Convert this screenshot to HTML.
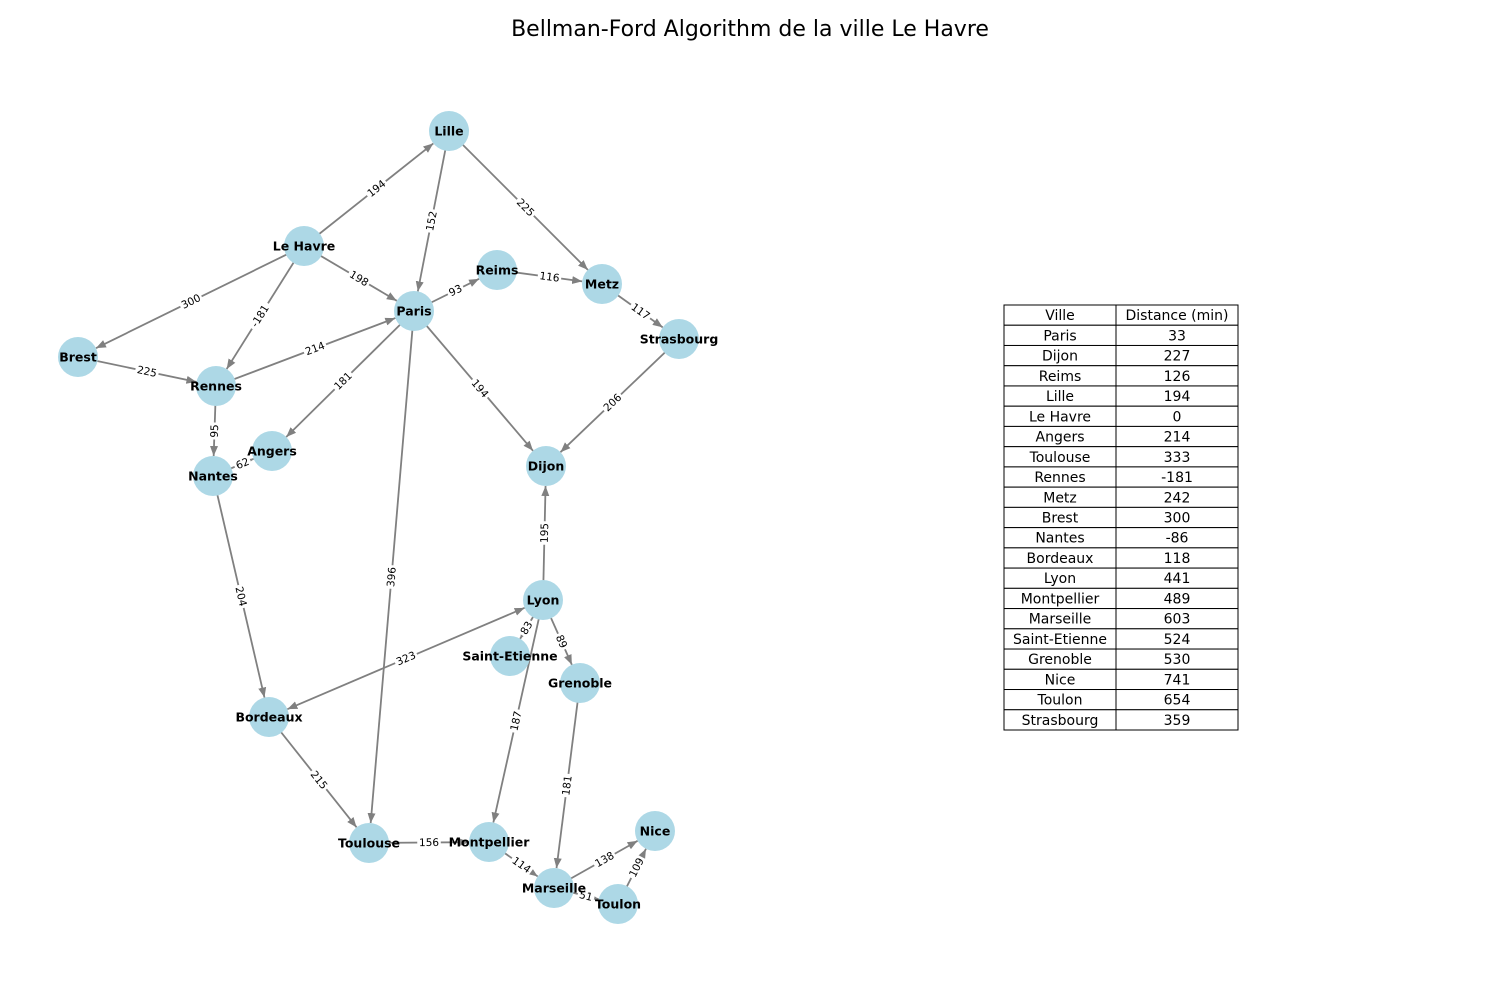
<!DOCTYPE html>
<html><head><meta charset="utf-8">
<style>
body{margin:0;background:#fff;}
svg{display:block;font-family:"DejaVu Sans","Liberation Sans",sans-serif;}
</style></head>
<body>
<svg id="chart" width="1500" height="1000" viewBox="0 0 1500 1000">
<defs>
<marker id="arr" viewBox="0 0 10 10" refX="10" refY="5" markerWidth="10" markerHeight="10" markerUnits="userSpaceOnUse" orient="auto-start-reverse">
<path d="M0,1 L10,5 L0,9 Z" fill="#808080"/>
</marker>
</defs>
<text x="750" y="36" text-anchor="middle" font-size="22" fill="#000">Bellman-Ford Algorithm de la ville Le Havre</text>
<g id="edges"></g>
<g id="elabels"></g>
<g id="nodes"></g>
<g id="table"></g>
</svg>
<script>
const nodeNames = ["Lille","Le Havre","Reims","Metz","Paris","Strasbourg","Brest","Rennes","Angers","Nantes","Dijon","Lyon","Saint-Etienne","Grenoble","Bordeaux","Toulouse","Montpellier","Nice","Marseille","Toulon"];
const nodeX = [449,304,497,602,414,679,78,216,272,213,546,543,510,580,269,369,489,655,554,618];
const nodeY = [131,246,270,284,311,339,357,386,451,476,466,600,656,683,717,843,842,831,888,904];
const edgeFrom = ["Le Havre","Le Havre","Le Havre","Le Havre","Lille","Lille","Paris","Reims","Metz","Strasbourg","Paris","Paris","Paris","Brest","Rennes","Rennes","Nantes","Nantes","Bordeaux","Bordeaux","Lyon","Lyon","Lyon","Lyon","Toulouse","Montpellier","Grenoble","Marseille","Marseille","Toulon"];
const edgeTo = ["Lille","Paris","Brest","Rennes","Paris","Metz","Reims","Metz","Strasbourg","Dijon","Dijon","Angers","Toulouse","Rennes","Paris","Nantes","Angers","Bordeaux","Lyon","Toulouse","Dijon","Saint-Etienne","Grenoble","Montpellier","Montpellier","Marseille","Marseille","Nice","Toulon","Nice"];
const edgeWeights = [194,198,300,-181,152,225,93,116,117,206,194,181,396,225,214,95,62,204,323,215,195,83,89,187,156,114,181,138,51,109];
const edgeBoth = [0,0,0,0,0,0,0,0,0,0,0,0,0,0,0,0,0,0,1,0,0,0,0,0,0,0,0,0,0,0];
const tableCities = ["Paris","Dijon","Reims","Lille","Le Havre","Angers","Toulouse","Rennes","Metz","Brest","Nantes","Bordeaux","Lyon","Montpellier","Marseille","Saint-Etienne","Grenoble","Nice","Toulon","Strasbourg"];
const tableDist = [33,227,126,194,0,214,333,-181,242,300,-86,118,441,489,603,524,530,741,654,359];

const NS="http://www.w3.org/2000/svg";
const R=20;
function mk(t,a){const e=document.createElementNS(NS,t);for(const k in a)e.setAttribute(k,a[k]);return e;}
function pos(n){const i=nodeNames.indexOf(n);return [nodeX[i],nodeY[i]];}
const gE=document.getElementById('edges'),gL=document.getElementById('elabels'),gN=document.getElementById('nodes'),gT=document.getElementById('table');
edgeFrom.forEach((f,i)=>{
  const [x1,y1]=pos(f),[x2,y2]=pos(edgeTo[i]);
  const dx=x2-x1,dy=y2-y1,L=Math.hypot(dx,dy),ux=dx/L,uy=dy/L;
  const s=edgeBoth[i]?R:0;
  const line=mk('line',{x1:x1+ux*s,y1:y1+uy*s,x2:x2-ux*R,y2:y2-uy*R,stroke:'#808080','stroke-width':1.8,'marker-end':'url(#arr)'});
  if(edgeBoth[i])line.setAttribute('marker-start','url(#arr)');
  
  
  gE.appendChild(line);
  const mx=(x1+x2)/2,my=(y1+y2)/2;
  let ang=Math.atan2(dy,dx)*180/Math.PI;
  if(ang>90)ang-=180;if(ang<-90)ang+=180;
  const g=mk('g',{transform:`translate(${mx},${my}) rotate(${ang})`});
  
  
  const txt=String(edgeWeights[i]);
  const w=txt.length*6.5+4;
  g.appendChild(mk('rect',{x:-w/2,y:-6,width:w,height:12,fill:'#fff'}));
  const t=mk('text',{x:0,y:3.5,'text-anchor':'middle','font-size':10.5,fill:'#000'});
  t.textContent=txt;g.appendChild(t);
  gL.appendChild(g);
});
nodeNames.forEach((n,i)=>{
  const c=mk('circle',{cx:nodeX[i],cy:nodeY[i],r:R,fill:'#add8e6'});
  
  
  gN.appendChild(c);
});
nodeNames.forEach((n,i)=>{
  const t=mk('text',{x:nodeX[i],y:nodeY[i]+4.5,'text-anchor':'middle','font-size':12.5,'font-weight':'bold',fill:'#000'});
  t.textContent=n;
  
  
  gN.appendChild(t);
});
const tx0=1004,tx1=1116,tx2=1238,ty0=305,rh=425/21;
const rows=[["Ville","Distance (min)"]].concat(tableCities.map((c,i)=>[c,String(tableDist[i])]));
rows.forEach((r,j)=>{
  const y=ty0+j*rh;
  const c1=mk('rect',{x:tx0,y:y,width:tx1-tx0,height:rh,fill:'#fff',stroke:'#000','stroke-width':1});
  
  
  gT.appendChild(c1);
  const c2=mk('rect',{x:tx1,y:y,width:tx2-tx1,height:rh,fill:'#fff',stroke:'#000','stroke-width':1});
  
  
  gT.appendChild(c2);
  const t1=mk('text',{x:(tx0+tx1)/2,y:y+rh/2+5,'text-anchor':'middle','font-size':14,fill:'#000'});
  t1.textContent=r[0];
  
  
  gT.appendChild(t1);
  const t2=mk('text',{x:(tx1+tx2)/2,y:y+rh/2+5,'text-anchor':'middle','font-size':14,fill:'#000'});
  t2.textContent=r[1];
  
  
  gT.appendChild(t2);
});
</script>
</body></html>
